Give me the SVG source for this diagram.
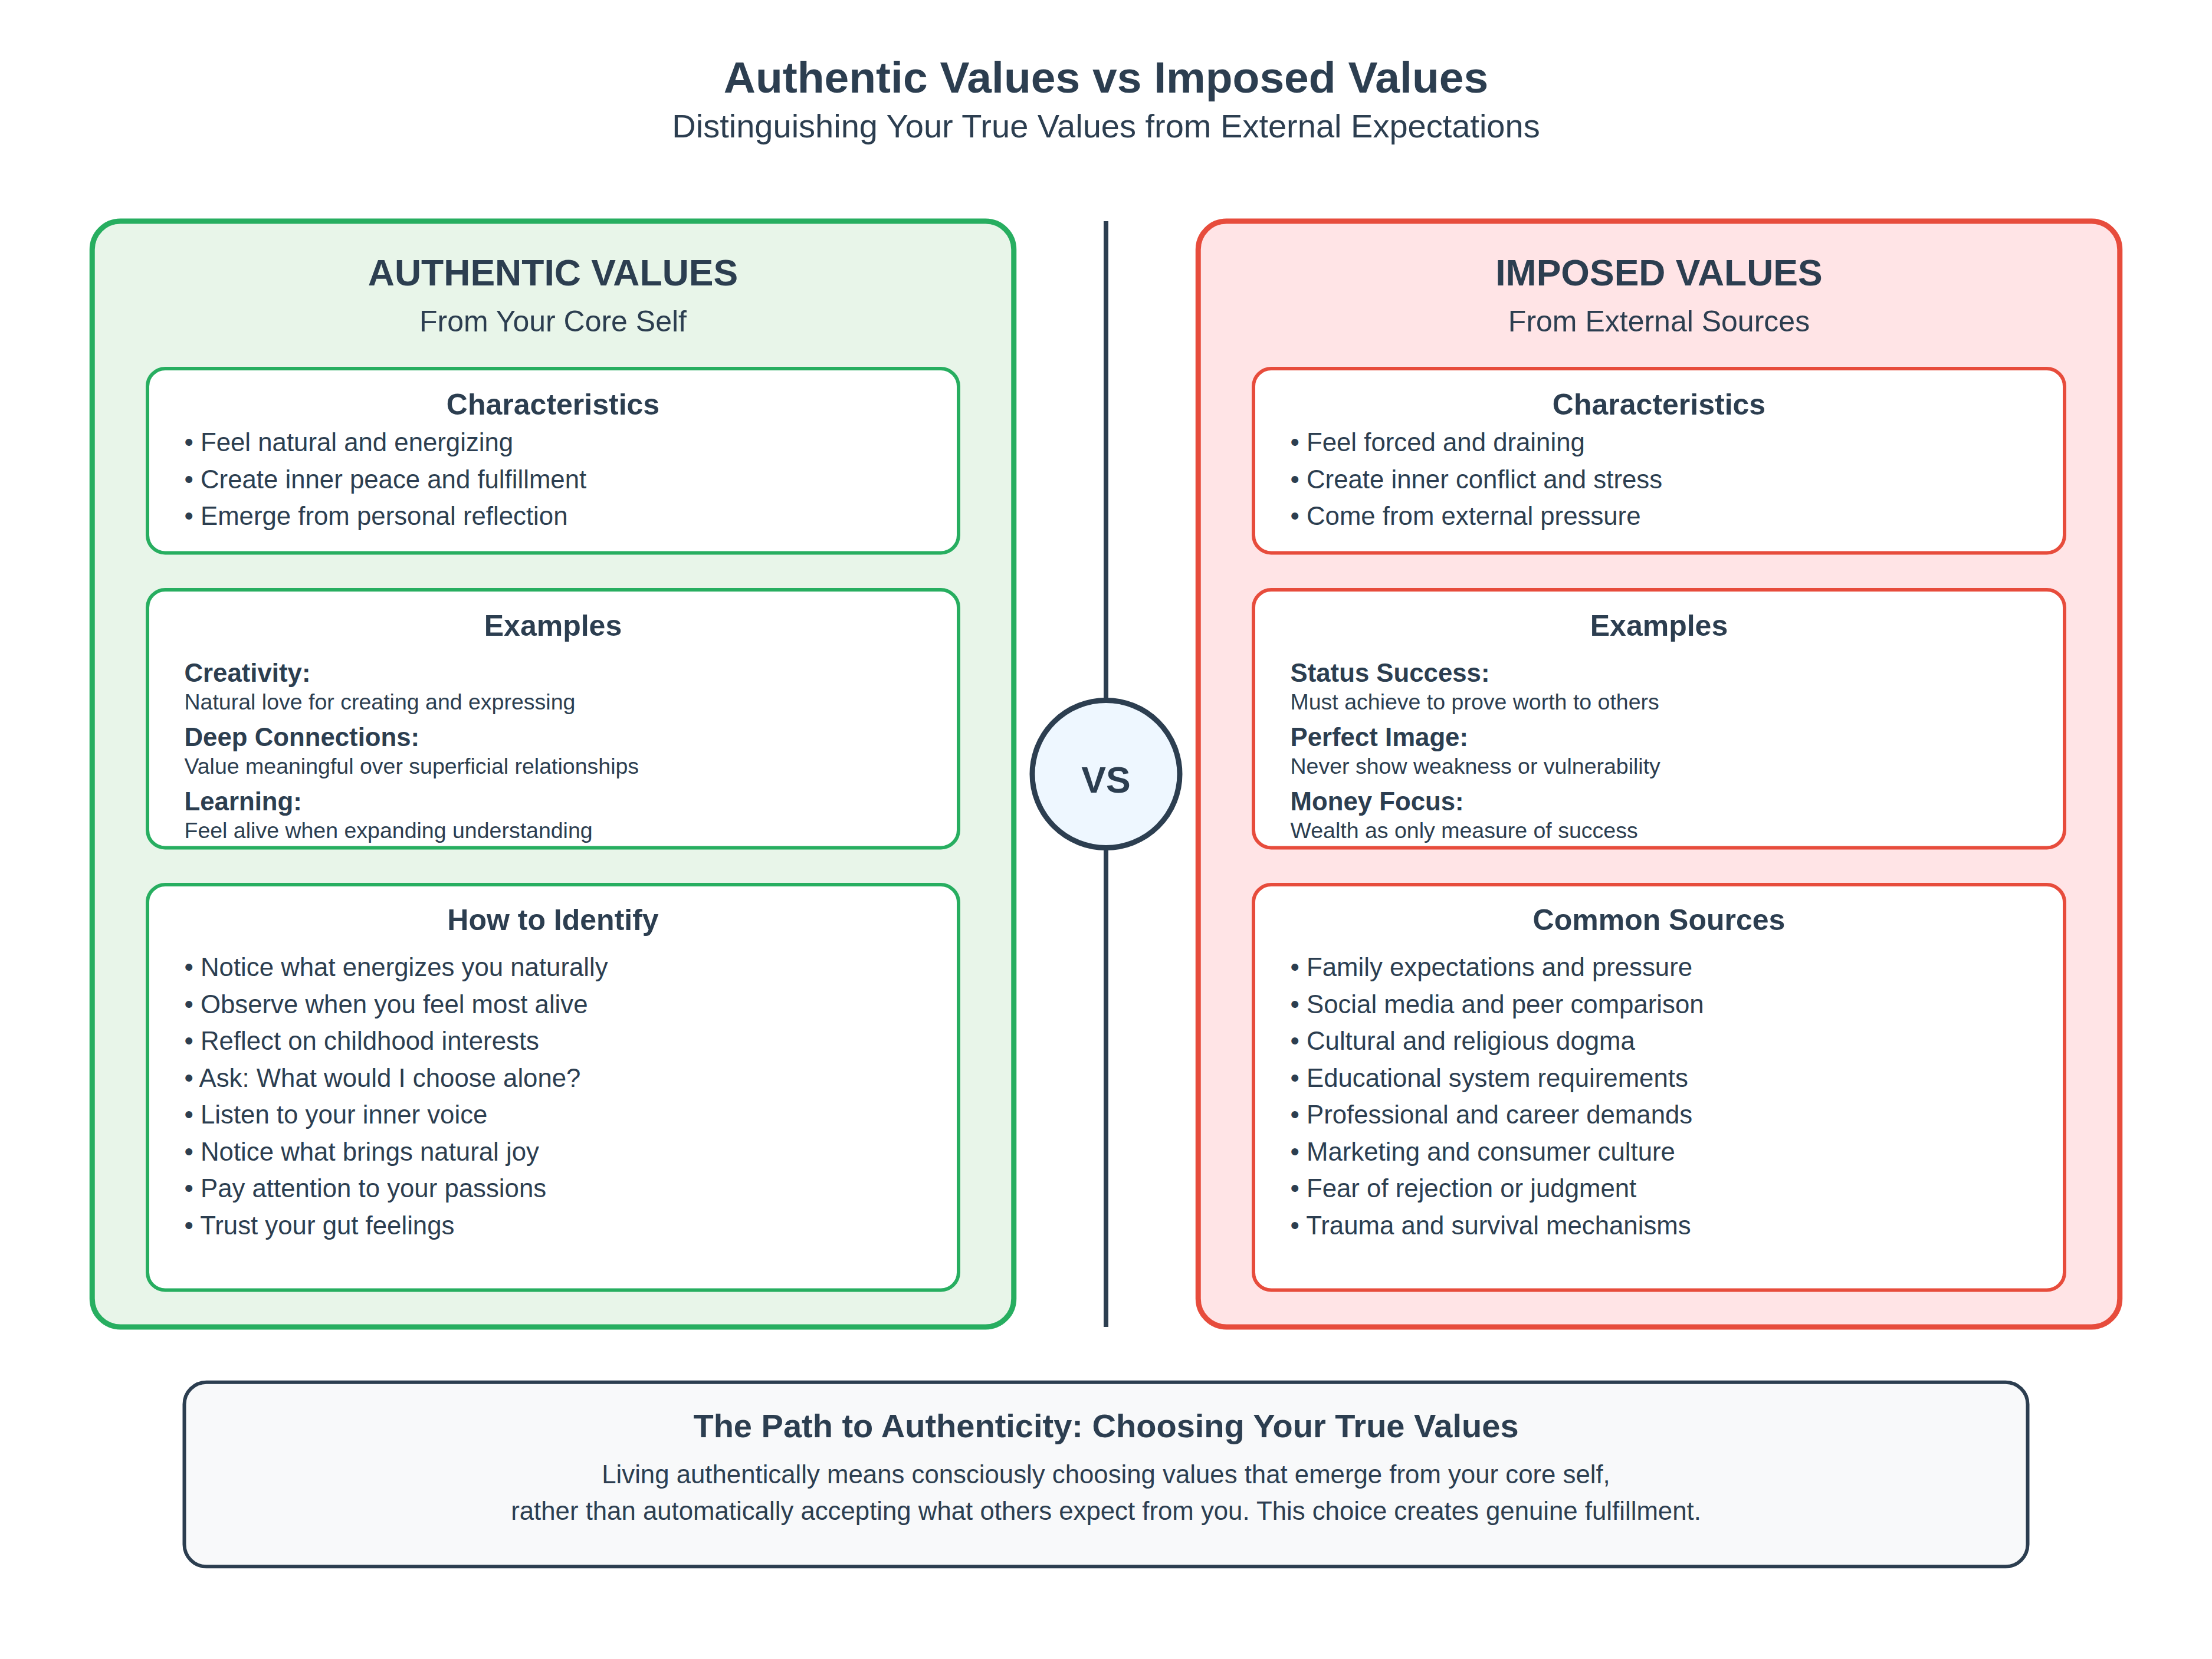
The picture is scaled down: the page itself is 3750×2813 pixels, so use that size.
<svg xmlns="http://www.w3.org/2000/svg" width="3750" height="2813" viewBox="0 0 3750 2813">
  <style>
    text { font-family: "Liberation Sans", Arial, sans-serif; fill: #2c3e50; }
    .title { font-size: 75px; font-weight: bold; text-anchor: middle; }
    .subtitle { font-size: 56px; text-anchor: middle; }
    .head { font-size: 62.5px; font-weight: bold; text-anchor: middle; }
    .sub { font-size: 50px; text-anchor: middle; }
    .sec { font-size: 50px; font-weight: bold; text-anchor: middle; }
    .item { font-size: 43.75px; }
    .label { font-size: 43.75px; font-weight: bold; }
    .desc { font-size: 37.5px; }
    .vs { font-size: 62.5px; font-weight: bold; text-anchor: middle; }
    .ftitle { font-size: 56px; font-weight: bold; text-anchor: middle; }
    .fbody { font-size: 43.75px; text-anchor: middle; }
    .panel-a { fill: #e8f5e9; stroke: #27ae60; stroke-width: 9; }
    .panel-i { fill: #ffe4e6; stroke: #e74c3c; stroke-width: 9; }
    .card-a { fill: #ffffff; stroke: #27ae60; stroke-width: 6; }
    .card-i { fill: #ffffff; stroke: #e74c3c; stroke-width: 6; }
  </style>
  <rect width="3750" height="2813" fill="#ffffff"/>

  <g id="header">
    <text class="title" x="1875" y="157">Authentic Values vs Imposed Values</text>
    <text class="subtitle" x="1875" y="233">Distinguishing Your True Values from External Expectations</text>
  </g>

  <!-- divider with the VS badge -->
  <g id="connectors">
    <line x1="1875" y1="375" x2="1875" y2="2250" stroke="#2c3e50" stroke-width="8"/>
  </g>

  <g id="vs-badge">
    <circle cx="1875" cy="1312.5" r="125" fill="#eef7ff" stroke="#2c3e50" stroke-width="9"/>
    <text class="vs" x="1875" y="1344">VS</text>
  </g>

  <!-- left column -->
  <g id="authentic-panel">
    <rect class="panel-a" x="156.25" y="375" width="1562.5" height="1875" rx="48"/>
    <text class="head" x="937.5" y="484">AUTHENTIC VALUES</text>
    <text class="sub" x="937.5" y="562">From Your Core Self</text>
  </g>

  <g id="authentic-characteristics">
    <rect class="card-a" x="250" y="625" width="1375" height="312.5" rx="30"/>
    <text class="sec" x="937.5" y="702.5">Characteristics</text>
    <text class="item" x="312.5" y="765">• Feel natural and energizing</text>
    <text class="item" x="312.5" y="827.5">• Create inner peace and fulfillment</text>
    <text class="item" x="312.5" y="890">• Emerge from personal reflection</text>
  </g>

  <g id="authentic-examples">
    <rect class="card-a" x="250" y="1000" width="1375" height="437.5" rx="30"/>
    <text class="sec" x="937.5" y="1078">Examples</text>
    <text class="label" x="312.5" y="1156">Creativity:</text>
    <text class="desc" x="312.5" y="1203">Natural love for creating and expressing</text>
    <text class="label" x="312.5" y="1265">Deep Connections:</text>
    <text class="desc" x="312.5" y="1312">Value meaningful over superficial relationships</text>
    <text class="label" x="312.5" y="1374">Learning:</text>
    <text class="desc" x="312.5" y="1421">Feel alive when expanding understanding</text>
  </g>

  <g id="authentic-identify">
    <rect class="card-a" x="250" y="1500" width="1375" height="687.5" rx="30"/>
    <text class="sec" x="937.5" y="1577">How to Identify</text>
    <text class="item" x="312.5" y="1655">• Notice what energizes you naturally</text>
    <text class="item" x="312.5" y="1717.5">• Observe when you feel most alive</text>
    <text class="item" x="312.5" y="1780">• Reflect on childhood interests</text>
    <text class="item" x="312.5" y="1842.5">• Ask: What would I choose alone?</text>
    <text class="item" x="312.5" y="1905">• Listen to your inner voice</text>
    <text class="item" x="312.5" y="1967.5">• Notice what brings natural joy</text>
    <text class="item" x="312.5" y="2030">• Pay attention to your passions</text>
    <text class="item" x="312.5" y="2092.5">• Trust your gut feelings</text>
  </g>

  <!-- right column -->
  <g id="imposed-panel">
    <rect class="panel-i" x="2031.25" y="375" width="1562.5" height="1875" rx="48"/>
    <text class="head" x="2812.5" y="484">IMPOSED VALUES</text>
    <text class="sub" x="2812.5" y="562">From External Sources</text>
  </g>

  <g id="imposed-characteristics">
    <rect class="card-i" x="2125" y="625" width="1375" height="312.5" rx="30"/>
    <text class="sec" x="2812.5" y="702.5">Characteristics</text>
    <text class="item" x="2187.5" y="765">• Feel forced and draining</text>
    <text class="item" x="2187.5" y="827.5">• Create inner conflict and stress</text>
    <text class="item" x="2187.5" y="890">• Come from external pressure</text>
  </g>

  <g id="imposed-examples">
    <rect class="card-i" x="2125" y="1000" width="1375" height="437.5" rx="30"/>
    <text class="sec" x="2812.5" y="1078">Examples</text>
    <text class="label" x="2187.5" y="1156">Status Success:</text>
    <text class="desc" x="2187.5" y="1203">Must achieve to prove worth to others</text>
    <text class="label" x="2187.5" y="1265">Perfect Image:</text>
    <text class="desc" x="2187.5" y="1312">Never show weakness or vulnerability</text>
    <text class="label" x="2187.5" y="1374">Money Focus:</text>
    <text class="desc" x="2187.5" y="1421">Wealth as only measure of success</text>
  </g>

  <g id="imposed-sources">
    <rect class="card-i" x="2125" y="1500" width="1375" height="687.5" rx="30"/>
    <text class="sec" x="2812.5" y="1577">Common Sources</text>
    <text class="item" x="2187.5" y="1655">• Family expectations and pressure</text>
    <text class="item" x="2187.5" y="1717.5">• Social media and peer comparison</text>
    <text class="item" x="2187.5" y="1780">• Cultural and religious dogma</text>
    <text class="item" x="2187.5" y="1842.5">• Educational system requirements</text>
    <text class="item" x="2187.5" y="1905">• Professional and career demands</text>
    <text class="item" x="2187.5" y="1967.5">• Marketing and consumer culture</text>
    <text class="item" x="2187.5" y="2030">• Fear of rejection or judgment</text>
    <text class="item" x="2187.5" y="2092.5">• Trauma and survival mechanisms</text>
  </g>

  <!-- closing summary -->
  <g id="path-summary">
    <rect x="312.5" y="2343.75" width="3125" height="312.5" rx="37.5" fill="#f8f9fa" stroke="#2c3e50" stroke-width="6"/>
    <text class="ftitle" x="1875" y="2437">The Path to Authenticity: Choosing Your True Values</text>
    <text class="fbody" x="1875" y="2515">Living authentically means consciously choosing values that emerge from your core self,</text>
    <text class="fbody" x="1875" y="2577">rather than automatically accepting what others expect from you. This choice creates genuine fulfillment.</text>
  </g>
</svg>
